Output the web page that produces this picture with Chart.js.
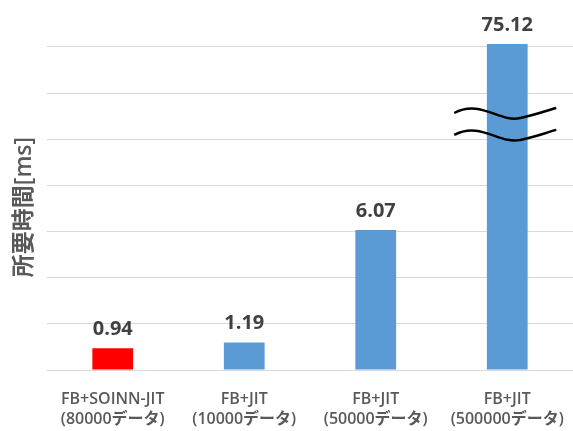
<!DOCTYPE html>
<html>
<head>
<meta charset="utf-8">
<script src="https://cdn.jsdelivr.net/npm/chart.js@4"></script>
<style>
  html, body { margin: 0; padding: 0; background: #fff; }
  #wrap { width: 573px; height: 431px; }
</style>
</head>
<body>
<div id="wrap"><canvas id="timeChart"></canvas></div>
<script>
// --- data ---
const labels = [
  ['FB+SOINN-JIT', '(80000データ)'],
  ['FB+JIT', '(10000データ)'],
  ['FB+JIT', '(50000データ)'],
  ['FB+JIT', '(500000データ)']
];
const times = [0.94, 1.19, 6.07, 75.12];
const barColors = ['#FF0000', '#5B9BD5', '#5B9BD5', '#5B9BD5'];
const axisMax = 14.13; // axis is broken above this, last bar is cut off
const brokenIndex = 3;

const FONT = "'Open Sans', 'Noto Sans CJK JP', sans-serif";

// value labels on top of bars
const valueLabels = {
  id: 'valueLabels',
  afterDatasetsDraw(chart) {
    const ctx = chart.ctx;
    const meta = chart.getDatasetMeta(0);
    ctx.save();
    ctx.font = 'bold 20px ' + FONT;
    ctx.fillStyle = '#404040';
    ctx.textAlign = 'center';
    ctx.textBaseline = 'middle';
    meta.data.forEach((bar, i) => {
      const top = Math.max(bar.y, chart.chartArea.top);
      ctx.fillText(times[i].toFixed(2), bar.x, top - 19);
    });
    ctx.restore();
  }
};

// wavy marks showing the broken bar
const breakMarks = {
  id: 'breakMarks',
  afterDatasetsDraw(chart) {
    const ctx = chart.ctx;
    const bar = chart.getDatasetMeta(0).data[brokenIndex];
    const y = chart.scales.y;
    const cx = bar.x - 2;
    ctx.save();
    ctx.strokeStyle = '#000';
    ctx.lineWidth = 2.5;
    [11.14, 10.19].forEach(v => {
      const y0 = y.getPixelForValue(v);
      ctx.beginPath();
      ctx.moveTo(cx - 51, y0);
      ctx.bezierCurveTo(cx - 25, y0 - 14, cx - 5, y0 + 10, cx + 15, y0 + 5);
      ctx.bezierCurveTo(cx + 30, y0 + 2, cx + 40, y0 - 2, cx + 51, y0 - 5);
      ctx.stroke();
    });
    ctx.restore();
  }
};

const ctx = document.getElementById('timeChart').getContext('2d');
new Chart(ctx, {
  type: 'bar',
  data: {
    labels: labels,
    datasets: [{
      data: times,
      backgroundColor: barColors,
      barPercentage: 0.62,
      categoryPercentage: 0.5
    }]
  },
  options: {
    responsive: true,
    maintainAspectRatio: false,
    animation: false,
    layout: { padding: { left: 7, right: 0, top: 44, bottom: 4 } },
    plugins: {
      legend: { display: false },
      tooltip: { enabled: false }
    },
    scales: {
      x: {
        afterFit(scale) {
          scale.height = 57;
          scale.paddingLeft = 0;
          scale.paddingRight = 0;
        },
        grid: { display: false, drawTicks: false },
        border: { display: false },
        ticks: {
          color: '#595959',
          font: { family: FONT, size: 16, weight: '600', lineHeight: 1.25 },
          padding: 19,
          maxRotation: 0,
          autoSkip: false
        }
      },
      y: {
        min: 0,
        max: axisMax,
        afterFit(scale) { scale.width = 40; },
        ticks: { display: false, stepSize: 2, includeBounds: false },
        grid: { color: '#D9D9D9', lineWidth: 1, drawTicks: false },
        border: { display: false },
        title: {
          display: true,
          text: '所要時間[ms]',
          color: '#595959',
          font: { family: FONT, size: 23, weight: '600' }
        }
      }
    }
  },
  plugins: [valueLabels, breakMarks]
});
</script>
</body>
</html>
